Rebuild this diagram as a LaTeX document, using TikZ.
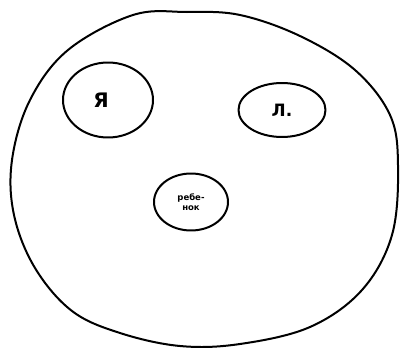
\documentclass[tikz,border=0pt]{standalone}
\usepackage{fontspec}
\setmainfont{DejaVu Sans}
\usetikzlibrary{shapes.geometric}
\tikzset{
  ink/.style={line width=2pt, black, line join=round, line cap=round},
  blob/.style={ellipse, draw, ink, inner sep=0pt, font=\bfseries}
}
\begin{document}
\begin{tikzpicture}[x=1pt,y=-1pt]
\useasboundingbox (0,0) rectangle (400,348);
\fill[white] (0,0) rectangle (400,348);
% outer blob
\draw[ink] plot[smooth cycle, tension=0.6] coordinates {
  (133,15) (187,12) (240,15) (300,36) (355,70) (390,115) (398,165)
  (392,235) (362,290) (310,327) (240,344) (180,346) (120,333)
  (72,311) (35,268) (14,215) (12,160) (30,100) (68,50)};
% inner blobs
\node[blob, minimum width=90pt, minimum height=75pt] (ya) at (108,100) {};
\node[font=\bfseries\fontsize{20}{20}\selectfont] (yatext) at (101,100) {Я};
\node[blob, minimum width=87pt, minimum height=54pt, font=\bfseries\fontsize{17}{17}\selectfont] (l) at (282,110) {Л.};
\node[blob, minimum width=74pt, minimum height=57pt, align=center, font=\bfseries\fontsize{8.5}{10}\selectfont] (child) at (191,202) {ребе-\\нок};
\end{tikzpicture}
\end{document}
